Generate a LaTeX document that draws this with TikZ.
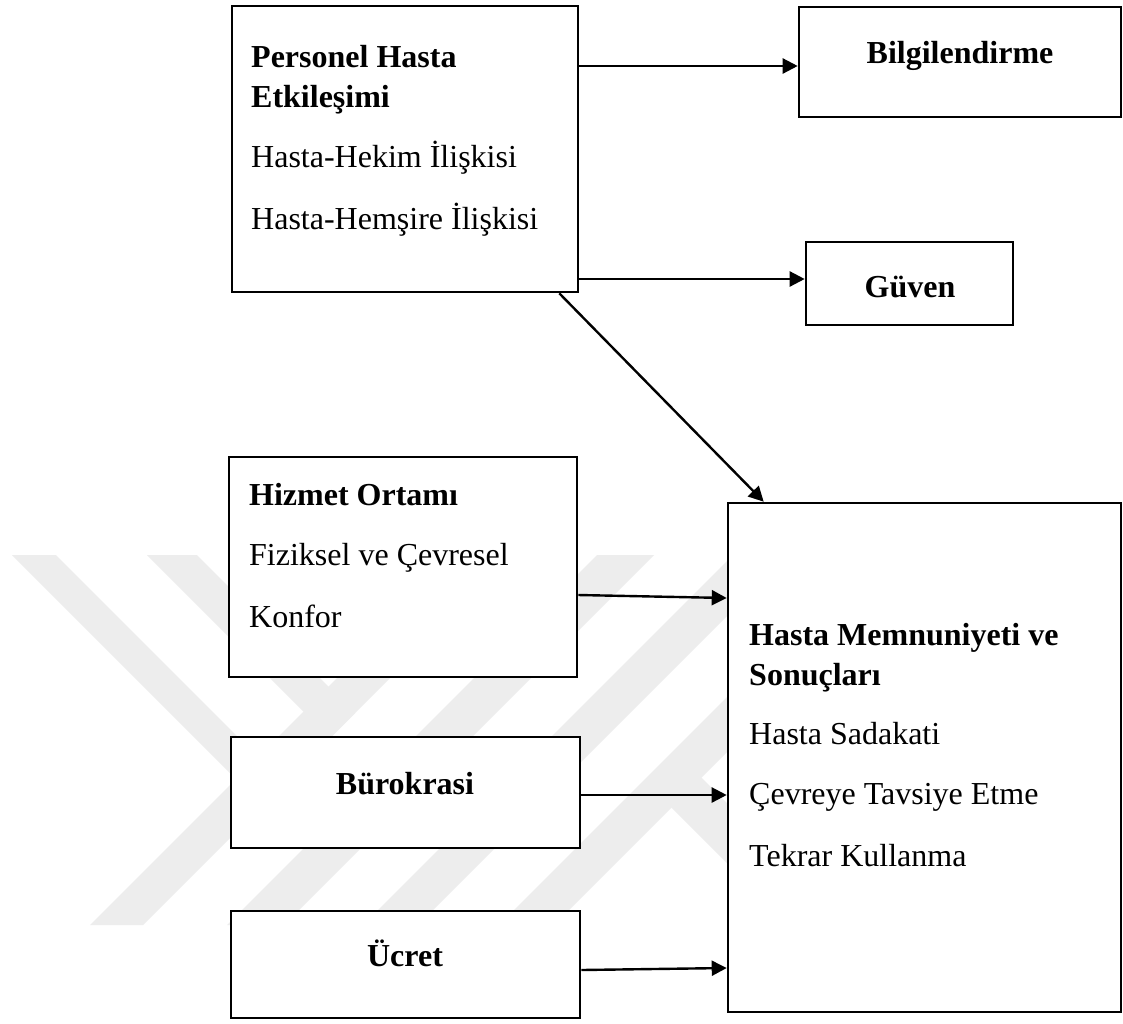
\documentclass[tikz,border=0pt]{standalone}
\usepackage{fontspec}
\setmainfont{Liberation Serif}
\usetikzlibrary{arrows.meta,calc}
\definecolor{wm}{RGB}{237,237,237}
\begin{document}
\begin{tikzpicture}[x=1pt,y=-1pt,
  box/.style={draw, line width=2.6pt, fill=white, rectangle, inner sep=0pt},
  arr/.style={line width=2.4pt, -{Triangle[length=15pt,width=15pt]}},
  txt/.style={anchor=base west, inner sep=0pt, font=\fontsize{32}{38}\selectfont},
  btxt/.style={anchor=base west, inner sep=0pt, font=\fontsize{32}{38}\selectfont\bfseries},
  ctxt/.style={anchor=base, inner sep=0pt, font=\fontsize{32}{38}\selectfont\bfseries}]
\useasboundingbox (0,0) rectangle (1123,1023);
\fill[white] (0,0) rectangle (1123,1023);

% faint striped emblem in the background
\begin{scope}
  \clip (0,555) rectangle (740,925);
  \fill[wm] (460,555) -- (513,555) -- (143,925) -- (90,925) -- cycle;
  \fill[wm] (597,555) -- (654,555) -- (284,925) -- (227,925) -- cycle;
  \fill[wm] (733,555) -- (788,555) -- (418,925) -- (363,925) -- cycle;
  \fill[wm] (869,555) -- (924,555) -- (554,925) -- (499,925) -- cycle;
  \fill[wm] (12,555) -- (56,555) -- (284.5,783.5) -- (262.5,805.5) -- cycle;
  \fill[wm] (147,555) -- (197,555) -- (355,713) -- (330,738) -- cycle;
  \fill[wm] (698.5,774.5) -- (740,816) -- (740,876) -- (668.5,804.5) -- cycle;
\end{scope}

% boxes
\node[box, minimum width=346pt, minimum height=286pt] (personel) at (405,149) {};
\node[box, minimum width=322pt, minimum height=110pt] (bilgi) at (960,62) {};
\node[box, minimum width=207pt, minimum height=83pt] (guven) at (909.5,283.5) {};
\node[box, minimum width=348pt, minimum height=220pt] (hizmet) at (403,567) {};
\node[box, minimum width=349pt, minimum height=111pt] (buro) at (405.5,792.5) {};
\node[box, minimum width=349pt, minimum height=107pt] (ucret) at (405.5,964.5) {};
\node[box, minimum width=393pt, minimum height=509pt] (big) at (924.5,757.5) {};

% texts
\node[btxt] (p1) at (251,67) {Personel Hasta};
\node[btxt] (p2) at (251,107) {Etkileşimi};
\node[txt] (p3) at (251,167) {Hasta-Hekim İlişkisi};
\node[txt] (p4) at (251,229) {Hasta-Hemşire İlişkisi};
\node[ctxt] (b1) at (960,63) {Bilgilendirme};
\node[ctxt] (g1) at (910,297) {Güven};
\node[btxt] (h1) at (249,505) {Hizmet Ortamı};
\node[txt] (h2) at (249,565) {Fiziksel ve Çevresel};
\node[txt] (h3) at (249,627) {Konfor};
\node[ctxt] (r1) at (405,794) {Bürokrasi};
\node[ctxt] (u1) at (405,966) {Ücret};
\node[btxt] (m1) at (749,645) {Hasta Memnuniyeti ve};
\node[btxt] (m2) at (749,685) {Sonuçları};
\node[txt] (m3) at (749,744) {Hasta Sadakati};
\node[txt] (m4) at (749,804) {Çevreye Tavsiye Etme};
\node[txt] (m5) at (749,866) {Tekrar Kullanma};

% connectors
\draw[arr] (personel.east |- 0,66) -- (bilgi.west |- 0,66);
\draw[arr] (personel.east |- 0,279) -- (guven.west |- 0,279);
\draw[arr] ([xshift=-20pt]personel.south east) -- ([xshift=37pt]big.north west);
\draw[arr] (hizmet.east |- 0,595) -- (big.west |- 0,598);
\draw[arr] (buro.east |- 0,795) -- (big.west |- 0,795);
\draw[arr] (ucret.east |- 0,970) -- (big.west |- 0,968);
\end{tikzpicture}
\end{document}
